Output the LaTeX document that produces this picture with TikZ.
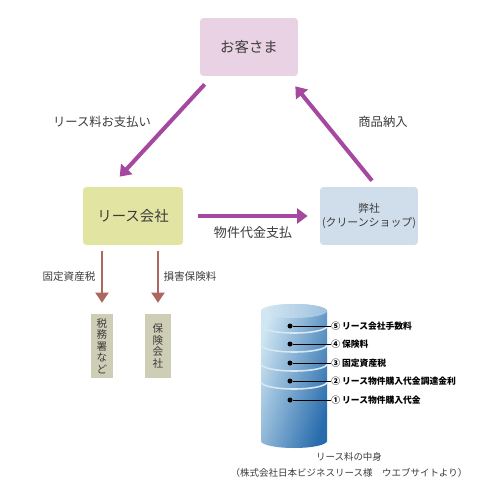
\documentclass[tikz,border=0pt]{standalone}
\usepackage{fontspec}
\setmainfont{Noto Sans CJK JP}
\usepackage{xcolor}
\usepackage{tikz}
\usetikzlibrary{arrows.meta}
\definecolor{customercolor}{RGB}{233,210,228}
\definecolor{leasecolor}{RGB}{226,228,162}
\definecolor{shopcolor}{RGB}{208,222,236}
\definecolor{officecolor}{RGB}{206,205,182}
\definecolor{paycolor}{RGB}{165,72,160}
\definecolor{costcolor}{RGB}{172,104,94}
\definecolor{textcolor}{RGB}{60,60,60}
\definecolor{cylinderlight}{RGB}{208,230,243}
\definecolor{cylinderdark}{RGB}{40,108,172}
\definecolor{cylindertop}{RGB}{214,232,244}

\begin{document}
\begin{tikzpicture}[x=0.02cm,y=-0.02cm,
    every node/.style={text=textcolor,inner sep=0pt},
    mainbox/.style={rounded corners=2pt,minimum height=11.6mm,font=\fontsize{8.2}{9}\selectfont},
    officebox/.style={fill=officecolor,minimum height=12.8mm,align=center,font=\fontsize{6}{6.6}\selectfont},
    payarrow/.style={paycolor,line width=2.3pt,-{Triangle[length=6pt,width=8.5pt]}},
    costarrow/.style={costcolor,line width=0.8pt,-{Triangle[length=5.7pt,width=7.5pt]}},
    flowlabel/.style={font=\fontsize{7}{8}\selectfont},
    costlabel/.style={font=\fontsize{6}{7}\selectfont},
    layerdot/.style={circle,fill=black,minimum size=1mm},
    layerlabel/.style={anchor=west,font=\bfseries\fontsize{5}{6}\selectfont,text=black}]
    \fill[white] (0,0) rectangle (500,500);
    \useasboundingbox (0,0) rectangle (500,500);

    % boxes
    \node[mainbox,fill=customercolor,minimum width=19.6mm] (kyaku) at (249,47) {お客さま};
    \node[mainbox,fill=leasecolor,minimum width=20mm] (lease) at (133,216) {リース会社};
    \node[mainbox,fill=shopcolor,minimum width=19.6mm,align=center,font=\fontsize{6.2}{8.5}\selectfont] (shop) at (369,216) {弊社\\(クリーンショップ)};
    \node[officebox,minimum width=4.4mm] (zeimu) at (102,346) {税\\務\\署\\な\\ど};
    \node[officebox,minimum width=5.4mm] (hoken) at (158,346) {保\\険\\会\\社};

    % arrows
    \draw[payarrow] ([shift={(5,8)}]kyaku.south west) -- ([shift={(37,-10)}]lease.north west);
    \draw[payarrow] ([shift={(3,-6)}]shop.north) -- ([shift={(-3,10)}]kyaku.south east);
    \draw[payarrow] ([shift={(15,0)}]lease.east) -- ([shift={(-12,0)}]shop.west);
    \draw[costarrow] ([shift={(0,6)}]zeimu.north |- lease.south) -- ([shift={(0,-11)}]zeimu.north);
    \draw[costarrow] ([shift={(0,6)}]hoken.north |- lease.south) -- ([shift={(0,-11)}]hoken.north);

    \node[flowlabel] (payment) at (102,122) {リース料お支払い};
    \node[flowlabel] (delivery) at (383,122) {商品納入};
    \node[flowlabel,font=\fontsize{7.4}{8}\selectfont] (price) at (253,233) {物件代金支払};
    \node[costlabel] (taxlabel) at (69,277) {固定資産税};
    \node[costlabel] (insurancelabel) at (190,277) {損害保険料};

    % cylinder
    \shade[top color=cylinderlight,bottom color=cylinderdark,shading angle=72]
        (261,311) -- (261,441) arc[start angle=180,end angle=0,x radius=33,y radius=7]
        -- (327,311) arc[start angle=0,end angle=-180,x radius=33,y radius=7] -- cycle;
    \shade[left color=cylindertop,right color=cylinderlight!70!cylinderdark] (294,311) ellipse[x radius=33,y radius=7];
    \foreach \y in {326,345,364,382}
        \draw[cylindertop,line width=0.9pt] (261,\y) arc[start angle=180,end angle=0,x radius=33,y radius=7];

    \foreach \i/\y/\txt in {5/326/⑤ リース会社手数料,4/344/④ 保険料,3/363/③ 固定資産税,2/381/② リース物件購入代金調達金利,1/400/① リース物件購入代金}
    {
        \node[layerdot] (dot\i) at (290,\y) {};
        \node[layerlabel] (layer\i) at (331,\y) {\txt};
        \draw[black,line width=0.5pt] (dot\i) -- (layer\i.west);
    }

    \node[align=center,font=\fontsize{5.4}{9}\selectfont] (caption) at (349,465) {リース料の中身\\（株式会社日本ビジネスリース様　ウエブサイトより）};
\end{tikzpicture}
\end{document}
